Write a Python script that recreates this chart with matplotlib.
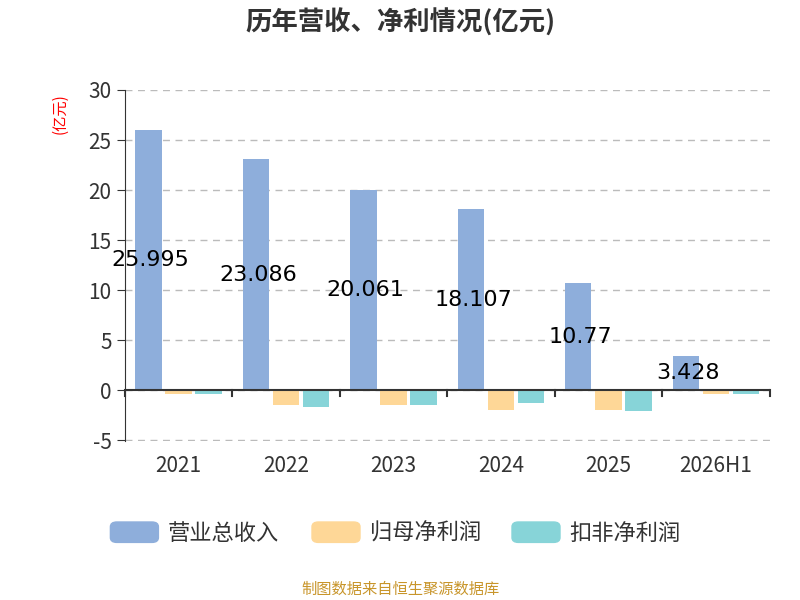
import numpy as np
import matplotlib.pyplot as plt
from matplotlib.patches import FancyBboxPatch

plt.rcParams['font.family'] = ['Noto Sans CJK SC', 'DejaVu Sans']
plt.rcParams['axes.unicode_minus'] = False

years = ['2021', '2022', '2023', '2024', '2025', '2026H1']
revenue = [25.995, 23.086, 20.061, 18.107, 10.77, 3.428]
net_profit = [-0.40, -1.45, -1.50, -2.00, -2.00, -0.37]
deducted_profit = [-0.40, -1.65, -1.50, -1.25, -2.10, -0.40]
names = ['营业总收入', '归母净利润', '扣非净利润']
colors = ['#8eaedb', '#fed797', '#87d4d8']

fig = plt.figure(figsize=(8, 6), dpi=100)
ax = fig.add_axes([0.156, 0.265, 0.806, 0.585])

x = np.arange(len(years))
w = 0.245
for i, (vals, c) in enumerate(zip([revenue, net_profit, deducted_profit], colors)):
    ax.bar(x + (i - 1) * 0.28, vals, w, color=c, label=names[i], zorder=3)
for xi, v in zip(x, revenue):
    ax.text(xi - 0.26, v / 2, f'{v:g}', ha='center', va='center', fontsize=16,
            color='black', zorder=4, family='DejaVu Sans')

ax.set_xlim(-0.5, len(years) - 0.5)
ax.set_ylim(-5.05, 30)
ax.set_yticks(range(-5, 31, 5))
ax.grid(axis='y', linestyle=(0, (5, 4)), color='#bbbbbb', linewidth=1)
for s in ['top', 'right', 'bottom']:
    ax.spines[s].set_visible(False)
ax.spines['left'].set_color('#333333')
ax.axhline(0, color='#333333', linewidth=1.5, zorder=4)
ax.tick_params(axis='y', labelsize=15, color='#333333', labelcolor='#333333', length=6)
ax.set_xticks(x)
ax.set_xticklabels(years)
ax.tick_params(axis='x', length=0, labelsize=15, labelcolor='#333333', pad=10)
for b in np.arange(-0.5, len(years), 1.0):
    ax.plot([b, b], [0, -0.6], color='#333333', linewidth=1.5, zorder=4, clip_on=False)

fig.text(0.075, 0.81, '(亿元)', rotation=90, color='red', fontsize=11, ha='center', va='center')
fig.text(0.5, 0.963, '历年营收、净利情况(亿元)', ha='center', va='center', fontsize=19,
         fontweight='bold', color='#333333')

# legend
lx = [0.138, 0.39, 0.64]
for px, name, c in zip(lx, names, colors):
    fig.patches.append(FancyBboxPatch((px, 0.093 + 0.003), 0.06, 0.034,
                                      boxstyle='round,pad=0,rounding_size=0.008',
                                      transform=fig.transFigure, color=c))
    fig.text(px + 0.072, 0.111, name, fontsize=16, va='center', color='#333333')

fig.text(0.5, 0.018, '制图数据来自恒生聚源数据库', ha='center', va='center', fontsize=11,
         color='#c8952a')

fig.savefig('out.png')
